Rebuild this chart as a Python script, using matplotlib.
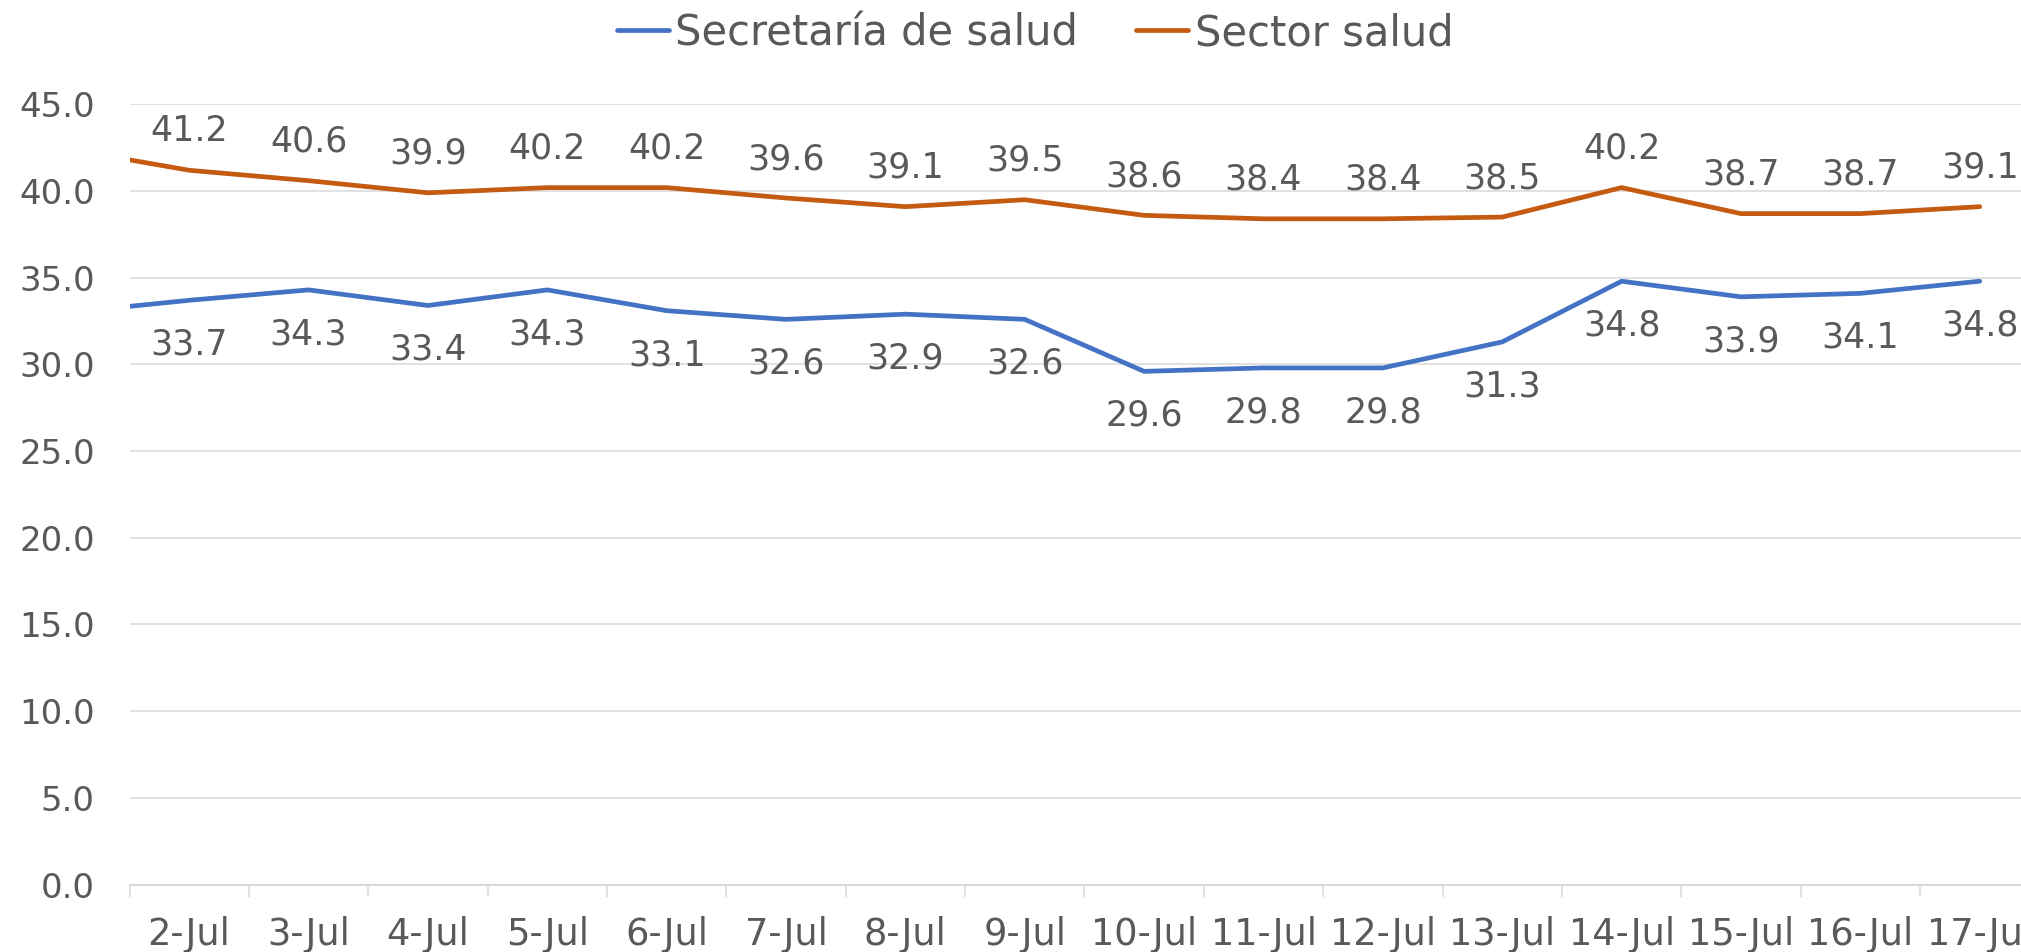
import matplotlib
matplotlib.use("Agg")
import matplotlib.pyplot as plt
import numpy as np

# Data
categories = ["2-Jul", "3-Jul", "4-Jul", "5-Jul", "6-Jul", "7-Jul", "8-Jul", "9-Jul",
              "10-Jul", "11-Jul", "12-Jul", "13-Jul", "14-Jul", "15-Jul", "16-Jul", "17-Jul"]
secretaria = [33.7, 34.3, 33.4, 34.3, 33.1, 32.6, 32.9, 32.6,
              29.6, 29.8, 29.8, 31.3, 34.8, 33.9, 34.1, 34.8]
sector = [41.2, 40.6, 39.9, 40.2, 40.2, 39.6, 39.1, 39.5,
          38.6, 38.4, 38.4, 38.5, 40.2, 38.7, 38.7, 39.1]
# previous day (1-Jul), outside the visible axis range (line is clipped at the edge)
prev_secretaria = 33.0
prev_sector = 42.4
yticks = [0, 5, 10, 15, 20, 25, 30, 35, 40, 45]

BLUE = "#4472C4"
ORANGE = "#C55A11"
TXT = "#595959"
GRID = "#D9D9D9"

plt.rcParams['font.family'] = ['DejaVu Sans']

fig = plt.figure(figsize=(20.21, 9.52), dpi=100)
ax = fig.add_axes([129.5 / 2021, 1 - 884.5 / 952, (2039.4 - 129.5) / 2021, (884.5 - 104.4) / 952])

x = np.arange(len(categories))
xs = np.concatenate([[-1], x])
ys1 = [prev_secretaria] + secretaria
ys2 = [prev_sector] + sector

l1, = ax.plot(xs, ys1, color=BLUE, lw=3.4, solid_capstyle='round', solid_joinstyle='round',
              label="Secretaría de salud")
l2, = ax.plot(xs, ys2, color=ORANGE, lw=3.4, solid_capstyle='round', solid_joinstyle='round',
              label="Sector salud")

for xi, v in zip(x, secretaria):
    ax.annotate(f"{v:.1f}", (xi, v), xytext=(0, -32), textcoords='offset points',
                ha='center', va='center', fontsize=25, color=TXT, clip_on=False)
for xi, v in zip(x, sector):
    ax.annotate(f"{v:.1f}", (xi, v), xytext=(0, 28), textcoords='offset points',
                ha='center', va='center', fontsize=25, color=TXT, clip_on=False)

ax.set_xlim(-0.5, len(categories) - 0.5)
ax.set_ylim(0, 45)
ax.set_yticks(yticks)
ax.set_yticklabels([f"{t:.1f}" for t in yticks])
ax.set_xticks(x)
ax.set_xticklabels(categories)
ax.set_xticks(np.arange(-0.5, len(categories) + 0.5, 1), minor=True)

ax.tick_params(axis='y', length=0, pad=25, labelsize=24.5, labelcolor=TXT)
ax.tick_params(axis='x', which='major', length=0, pad=23, labelsize=26.5, labelcolor=TXT)
ax.tick_params(axis='x', which='minor', length=8.6, width=1.1, color=GRID)

ax.grid(axis='y', color=GRID, lw=1.1)
ax.set_axisbelow(True)
for s in ['top', 'right', 'left']:
    ax.spines[s].set_visible(False)
ax.spines['bottom'].set_color(GRID)
ax.spines['bottom'].set_linewidth(1.5)

leg = fig.legend(handles=[l1, l2], loc='center', bbox_to_anchor=(1035 / 2021, 1 - 33 / 952),
                 ncol=2, frameon=False, fontsize=30, handlelength=1.25, handletextpad=0.15,
                 columnspacing=1.4, labelcolor=TXT)

fig.savefig("out.png", dpi=100)
